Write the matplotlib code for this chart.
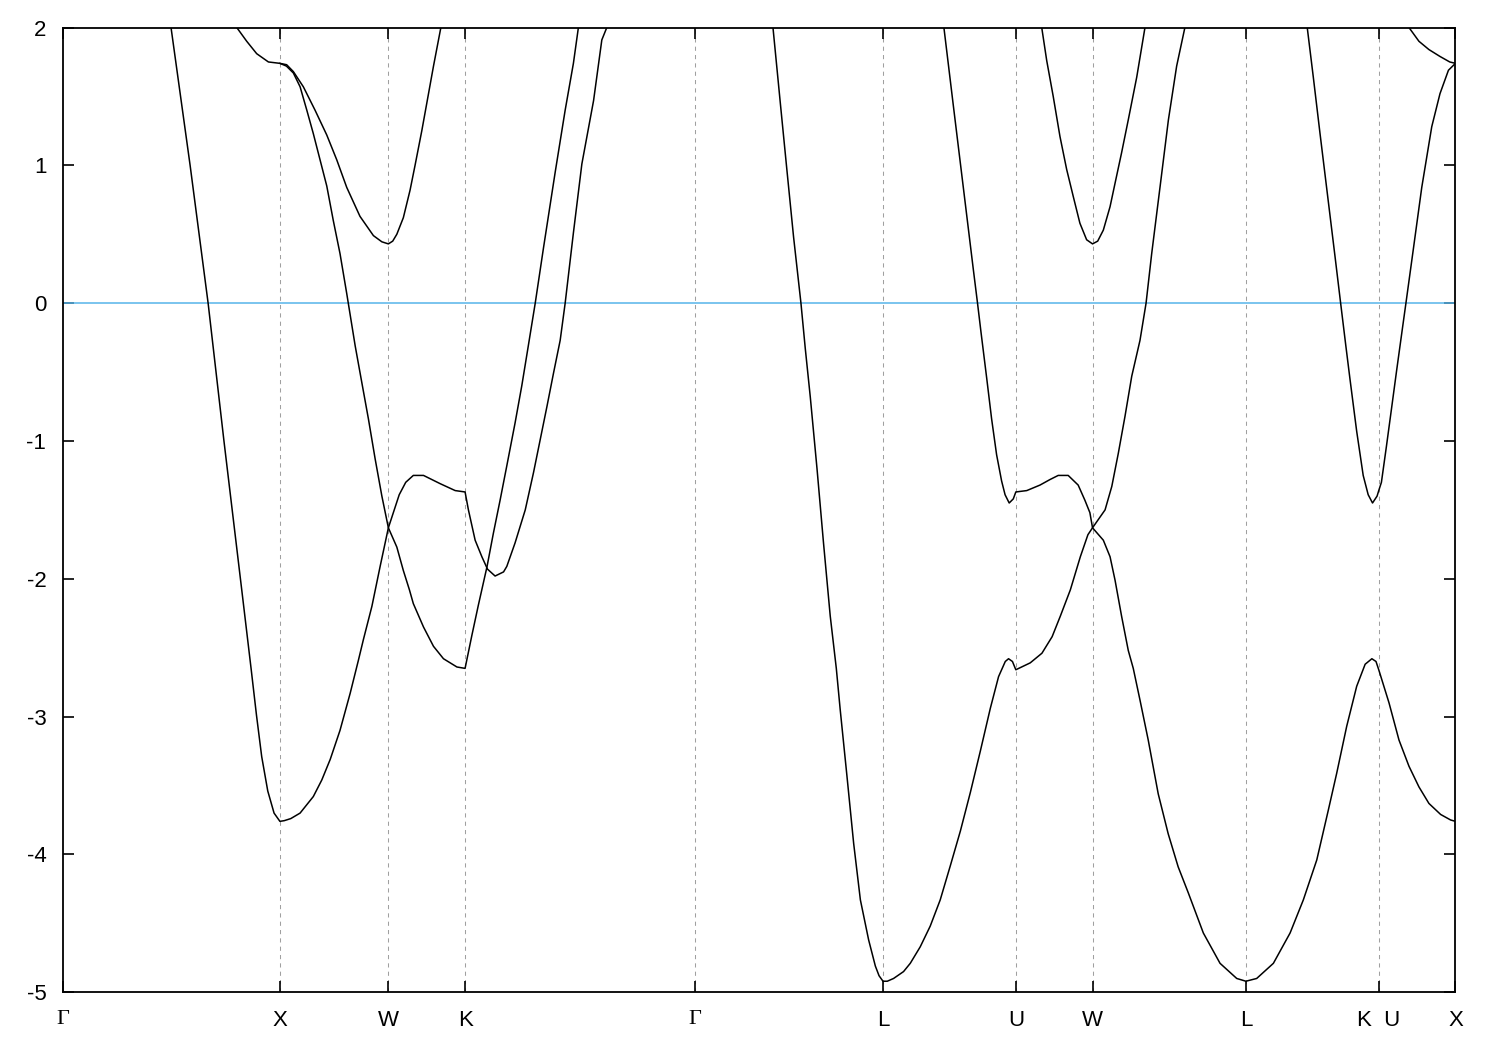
import matplotlib
matplotlib.use("Agg")
import matplotlib.pyplot as plt

plt.rcParams['font.family'] = ['Liberation Sans', 'DejaVu Sans']
plt.rcParams['axes.unicode_minus'] = False

# high symmetry points along the k-path
kpt_names = ['Γ', 'X', 'W', 'K', 'Γ', 'L', 'U', 'W', 'L', 'K  U', 'X']
kpt_pos = [0.0, 1.0, 1.5, 1.8536, 2.9142, 3.7802, 4.3926, 4.7462, 5.4533, 6.0657, 6.4193]

# band pieces (k in path units, E in eV, E_F = 0)
b1_k = [0.498, 0.586, 0.669, 0.742, 0.824, 0.867, 0.892, 0.916, 0.944, 0.973, 1.0,
        1.02, 1.05, 1.093, 1.154, 1.193, 1.232, 1.277, 1.324, 1.362, 1.385, 1.424, 1.462, 1.5,
        1.55, 1.58, 1.615, 1.662, 1.739, 1.808, 1.8536,
        1.869, 1.900, 1.931, 1.957, 1.992, 2.031, 2.046, 2.084, 2.131, 2.169, 2.200,
        2.231, 2.261, 2.292, 2.315, 2.353, 2.392, 2.446, 2.484, 2.507]
b1_e = [2.0, 1.0, 0.0, -1.0, -2.08, -2.65, -2.99, -3.29, -3.54, -3.70, -3.76,
        -3.755, -3.74, -3.70, -3.58, -3.46, -3.31, -3.10, -2.83, -2.59, -2.44, -2.20, -1.91, -1.63,
        -1.39, -1.30, -1.25, -1.25, -1.31, -1.36, -1.37,
        -1.50, -1.72, -1.84, -1.93, -1.98, -1.95, -1.91, -1.74, -1.50, -1.23, -0.99,
        -0.75, -0.51, -0.27, 0.0, 0.51, 1.01, 1.47, 1.91, 2.0]

b2_k = [0.801, 0.847, 0.893, 0.947, 1.0, 1.031, 1.062, 1.108, 1.162, 1.216, 1.262,
        1.308, 1.369, 1.431, 1.47, 1.5, 1.52, 1.539, 1.569, 1.600, 1.623, 1.654, 1.677,
        1.708, 1.742]
b2_e = [2.0, 1.90, 1.81, 1.75, 1.74, 1.73, 1.68, 1.57, 1.40, 1.22, 1.04,
        0.84, 0.63, 0.49, 0.445, 0.43, 0.45, 0.50, 0.62, 0.82, 1.00, 1.25, 1.45,
        1.72, 2.0]

b3_k = [1.0, 1.03, 1.062, 1.093, 1.124, 1.154, 1.185, 1.216, 1.246, 1.277, 1.308,
        1.347, 1.378, 1.408, 1.439, 1.470, 1.5, 1.539, 1.569, 1.597, 1.615, 1.662,
        1.708, 1.754, 1.816, 1.8536,
        1.885, 1.915, 1.955, 1.984, 2.015, 2.046, 2.084, 2.115, 2.143, 2.177, 2.215,
        2.269, 2.315, 2.353, 2.376]
b3_e = [1.74, 1.72, 1.67, 1.57, 1.40, 1.23, 1.04, 0.85, 0.60, 0.36, 0.07,
        -0.31, -0.58, -0.84, -1.13, -1.40, -1.63, -1.77, -1.94, -2.08, -2.18, -2.35,
        -2.49, -2.58, -2.64, -2.65,
        -2.41, -2.19, -1.91, -1.67, -1.43, -1.18, -0.87, -0.60, -0.33, 0.0, 0.40,
        0.95, 1.40, 1.74, 2.0]

b4_k = [3.273, 3.307, 3.337, 3.368, 3.402, 3.422, 3.445, 3.476, 3.506, 3.537, 3.565,
        3.583, 3.614, 3.645, 3.676, 3.714, 3.745, 3.762, 3.7802, 3.80,
        3.829, 3.875, 3.906, 3.952, 3.998, 4.044, 4.091, 4.137, 4.183, 4.229, 4.275,
        4.313, 4.344, 4.359, 4.377, 4.3926,
        4.459, 4.513, 4.560, 4.598, 4.644, 4.690, 4.725, 4.7462,
        4.804, 4.835, 4.865, 4.896, 4.927, 4.965, 4.993, 5.019, 5.058, 5.096, 5.134, 5.172]
b4_e = [2.0, 1.45, 0.97, 0.48, 0.0, -0.33, -0.68, -1.20, -1.74, -2.27, -2.65,
        -2.95, -3.43, -3.92, -4.33, -4.62, -4.81, -4.88, -4.92, -4.92,
        -4.90, -4.85, -4.79, -4.67, -4.52, -4.33, -4.08, -3.83, -3.55, -3.25, -2.94,
        -2.71, -2.60, -2.58, -2.60, -2.66,
        -2.61, -2.54, -2.42, -2.27, -2.08, -1.84, -1.68, -1.63,
        -1.50, -1.33, -1.09, -0.82, -0.53, -0.27, 0.0, 0.36, 0.85, 1.33, 1.72, 2.0]

b5_k = [4.061, 4.104, 4.135, 4.166, 4.197, 4.216, 4.232, 4.258, 4.281, 4.304, 4.327,
        4.343, 4.362, 4.381, 4.3926,
        4.443, 4.504, 4.550, 4.588, 4.634, 4.680, 4.711, 4.734, 4.7462,
        4.796, 4.827, 4.850, 4.880, 4.911, 4.934, 4.965, 5.003, 5.049, 5.095, 5.141,
        5.188, 5.257, 5.334, 5.411, 5.4533,
        5.503, 5.580, 5.657, 5.718, 5.780, 5.833, 5.872, 5.918, 5.964, 6.003, 6.034,
        6.053, 6.0657,
        6.113, 6.159, 6.205, 6.251, 6.297, 6.351, 6.397, 6.4193]
b5_e = [2.0, 1.44, 1.04, 0.64, 0.24, 0.0, -0.21, -0.54, -0.84, -1.10, -1.29,
        -1.39, -1.45, -1.42, -1.37,
        -1.36, -1.32, -1.28, -1.25, -1.25, -1.32, -1.43, -1.52, -1.63,
        -1.72, -1.84, -2.01, -2.27, -2.52, -2.65, -2.88, -3.17, -3.56, -3.85, -4.09,
        -4.28, -4.57, -4.79, -4.90, -4.92,
        -4.90, -4.79, -4.57, -4.33, -4.04, -3.68, -3.41, -3.07, -2.78, -2.62, -2.58,
        -2.60, -2.66,
        -2.90, -3.17, -3.36, -3.51, -3.63, -3.71, -3.75, -3.76]

b6_k = [4.512, 4.535, 4.565, 4.596, 4.627, 4.658, 4.688, 4.719, 4.7462, 4.77,
        4.796, 4.827, 4.850, 4.880, 4.911, 4.950, 4.988]
b6_e = [2.0, 1.76, 1.50, 1.21, 0.97, 0.77, 0.58, 0.46, 0.43, 0.45,
        0.53, 0.70, 0.87, 1.09, 1.33, 1.64, 2.0]

b7_k = [5.736, 5.764, 5.795, 5.826, 5.864, 5.890, 5.914, 5.933, 5.964, 5.994, 6.017,
        6.037, 6.058, 6.0657, 6.078, 6.101, 6.125, 6.148, 6.176, 6.191, 6.225, 6.264,
        6.310, 6.348, 6.387, 6.4193]
b7_e = [2.0, 1.64, 1.23, 0.83, 0.34, 0.0, -0.31, -0.55, -0.93, -1.25, -1.39,
        -1.45, -1.40, -1.36, -1.30, -1.04, -0.76, -0.49, -0.17, 0.0, 0.39, 0.84,
        1.28, 1.52, 1.69, 1.74]

b8_k = [6.205, 6.251, 6.297, 6.348, 6.393, 6.4193]
b8_e = [2.0, 1.90, 1.84, 1.79, 1.75, 1.74]

bands = [(b1_k, b1_e), (b2_k, b2_e), (b3_k, b3_e), (b4_k, b4_e),
         (b5_k, b5_e), (b6_k, b6_e), (b7_k, b7_e), (b8_k, b8_e)]

fig = plt.figure(figsize=(15, 10.5), dpi=100)
ax = fig.add_axes([0.042, 0.0550, 0.9283, 0.9188])

for kp in kpt_pos[1:-1]:
    ax.axvline(kp, color='#a0a0a0', lw=0.75, ls=(0, (4, 4)), zorder=1)
ax.axhline(0, color='#56b4e9', lw=1.1, zorder=2)

for k, e in bands:
    ax.plot(k, e, color='black', lw=1.1, zorder=3, solid_joinstyle='round')

ax.set_xlim(kpt_pos[0], kpt_pos[-1])
ax.set_ylim(-5, 2)
ax.set_xticks(kpt_pos)
ax.set_xticklabels(kpt_names)
ax.set_yticks(range(-5, 3))
ax.tick_params(direction='in', top=True, right=True, length=8, width=1.2, labelsize=16)
ax.tick_params(axis='x', pad=13)
ax.tick_params(axis='y', pad=12)
for lab in ax.get_xticklabels():
    if lab.get_text() == 'Γ':
        lab.set_fontfamily('Liberation Serif')
for s in ax.spines.values():
    s.set_linewidth(1.3)

fig.savefig('out.png', dpi=100)
